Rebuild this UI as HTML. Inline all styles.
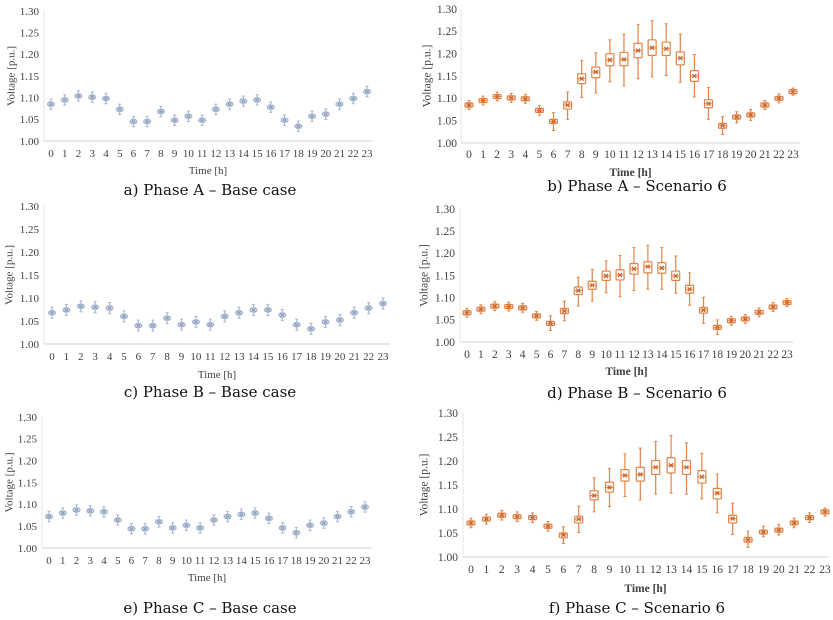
<!DOCTYPE html>
<html><head><meta charset="utf-8"><style>
body{margin:0;background:#fff}
svg{display:block;font-family:"Liberation Serif",serif}
</style></head><body>
<svg id="chart" width="833" height="620" viewBox="0 0 833 620"></svg>
<script>
const hours=[0,1,2,3,4,5,6,7,8,9,10,11,12,13,14,15,16,17,18,19,20,21,22,23];
const yTicks=[1.00,1.05,1.10,1.15,1.20,1.25,1.30];
const captions=["a) Phase A \u2013 Base case","b) Phase A \u2013 Scenario 6","c) Phase B \u2013 Base case","d) Phase B \u2013 Scenario 6","e) Phase C \u2013 Base case","f) Phase C \u2013 Scenario 6"];

const aMed=[1.085,1.095,1.104,1.101,1.098,1.073,1.045,1.045,1.068,1.048,1.057,1.048,1.073,1.085,1.092,1.095,1.078,1.048,1.034,1.057,1.062,1.085,1.098,1.114];
const aQ1=[1.081,1.091,1.100,1.097,1.094,1.069,1.041,1.041,1.064,1.044,1.053,1.044,1.069,1.081,1.088,1.091,1.074,1.044,1.030,1.053,1.058,1.081,1.094,1.110];
const aQ3=[1.089,1.099,1.108,1.105,1.102,1.077,1.049,1.049,1.072,1.052,1.061,1.052,1.077,1.089,1.096,1.099,1.082,1.052,1.038,1.061,1.066,1.089,1.102,1.118];
const aLo=[1.073,1.083,1.092,1.089,1.086,1.061,1.033,1.033,1.056,1.036,1.045,1.036,1.061,1.073,1.080,1.083,1.066,1.036,1.022,1.045,1.050,1.073,1.086,1.102];
const aHi=[1.097,1.107,1.116,1.113,1.110,1.085,1.057,1.057,1.080,1.060,1.069,1.060,1.085,1.097,1.104,1.107,1.090,1.060,1.046,1.069,1.074,1.097,1.110,1.126];

const bMed=[1.085,1.095,1.104,1.101,1.099,1.073,1.048,1.085,1.144,1.159,1.186,1.187,1.207,1.213,1.211,1.190,1.150,1.088,1.039,1.058,1.063,1.085,1.100,1.115];
const bQ1=[1.082,1.092,1.101,1.098,1.096,1.070,1.044,1.076,1.133,1.146,1.173,1.173,1.191,1.196,1.196,1.175,1.138,1.079,1.033,1.055,1.060,1.082,1.097,1.112];
const bQ3=[1.088,1.098,1.107,1.104,1.102,1.076,1.053,1.092,1.155,1.170,1.200,1.203,1.223,1.231,1.226,1.204,1.162,1.097,1.044,1.061,1.066,1.088,1.103,1.118];
const bLo=[1.075,1.085,1.094,1.091,1.089,1.062,1.028,1.053,1.102,1.112,1.137,1.128,1.144,1.148,1.151,1.136,1.103,1.053,1.019,1.045,1.050,1.075,1.090,1.107];
const bHi=[1.095,1.105,1.114,1.111,1.109,1.084,1.068,1.114,1.185,1.202,1.231,1.243,1.265,1.274,1.267,1.244,1.198,1.124,1.059,1.070,1.075,1.095,1.110,1.123];

const cMed=[1.068,1.074,1.082,1.080,1.078,1.060,1.040,1.040,1.056,1.042,1.048,1.042,1.060,1.068,1.074,1.074,1.063,1.042,1.033,1.048,1.052,1.068,1.078,1.088];
const cQ1=[1.064,1.070,1.078,1.076,1.074,1.056,1.036,1.036,1.052,1.038,1.044,1.038,1.056,1.064,1.070,1.070,1.059,1.038,1.029,1.044,1.048,1.064,1.074,1.084];
const cQ3=[1.072,1.078,1.086,1.084,1.082,1.064,1.044,1.044,1.060,1.046,1.052,1.046,1.064,1.072,1.078,1.078,1.067,1.046,1.037,1.052,1.056,1.072,1.082,1.092];
const cLo=[1.056,1.062,1.070,1.068,1.066,1.048,1.028,1.028,1.044,1.030,1.036,1.030,1.048,1.056,1.062,1.062,1.051,1.030,1.021,1.036,1.040,1.056,1.066,1.076];
const cHi=[1.080,1.086,1.094,1.092,1.090,1.072,1.052,1.052,1.068,1.054,1.060,1.054,1.072,1.080,1.086,1.086,1.075,1.054,1.045,1.060,1.064,1.080,1.090,1.100];

const dMed=[1.066,1.074,1.081,1.080,1.077,1.059,1.042,1.070,1.116,1.128,1.149,1.151,1.165,1.170,1.167,1.149,1.119,1.072,1.033,1.048,1.052,1.067,1.079,1.089];
const dQ1=[1.063,1.071,1.078,1.077,1.074,1.056,1.038,1.064,1.107,1.119,1.139,1.140,1.153,1.156,1.155,1.139,1.110,1.065,1.029,1.045,1.049,1.064,1.076,1.086];
const dQ3=[1.069,1.077,1.084,1.083,1.080,1.062,1.046,1.076,1.124,1.137,1.160,1.163,1.177,1.181,1.179,1.160,1.128,1.078,1.037,1.051,1.055,1.070,1.082,1.092];
const dLo=[1.056,1.064,1.071,1.070,1.067,1.049,1.026,1.048,1.081,1.092,1.111,1.102,1.116,1.119,1.119,1.110,1.083,1.042,1.017,1.038,1.042,1.057,1.069,1.080];
const dHi=[1.076,1.084,1.091,1.090,1.087,1.069,1.059,1.092,1.146,1.164,1.183,1.195,1.213,1.218,1.213,1.194,1.156,1.101,1.050,1.058,1.062,1.077,1.089,1.098];

const eMed=[1.072,1.080,1.087,1.085,1.083,1.064,1.044,1.044,1.060,1.046,1.052,1.046,1.064,1.072,1.077,1.080,1.068,1.046,1.035,1.052,1.057,1.072,1.083,1.094];
const eQ1=[1.068,1.076,1.083,1.081,1.079,1.060,1.040,1.040,1.056,1.042,1.048,1.042,1.060,1.068,1.073,1.076,1.064,1.042,1.031,1.048,1.053,1.068,1.079,1.090];
const eQ3=[1.076,1.084,1.091,1.089,1.087,1.068,1.048,1.048,1.064,1.050,1.056,1.050,1.068,1.076,1.081,1.084,1.072,1.050,1.039,1.056,1.061,1.076,1.087,1.098];
const eLo=[1.060,1.068,1.075,1.073,1.071,1.052,1.032,1.032,1.048,1.034,1.040,1.034,1.052,1.060,1.065,1.068,1.056,1.034,1.023,1.040,1.045,1.060,1.071,1.082];
const eHi=[1.084,1.092,1.099,1.097,1.095,1.076,1.056,1.056,1.072,1.058,1.064,1.058,1.076,1.084,1.089,1.092,1.080,1.058,1.047,1.064,1.069,1.084,1.095,1.106];

const fMed=[1.071,1.079,1.087,1.084,1.082,1.064,1.046,1.079,1.128,1.145,1.170,1.172,1.187,1.191,1.187,1.167,1.133,1.080,1.036,1.052,1.056,1.071,1.082,1.094];
const fQ1=[1.068,1.076,1.084,1.081,1.079,1.061,1.040,1.071,1.119,1.135,1.158,1.158,1.172,1.175,1.172,1.154,1.121,1.071,1.031,1.049,1.053,1.068,1.079,1.091];
const fQ3=[1.074,1.082,1.090,1.087,1.085,1.067,1.050,1.085,1.138,1.156,1.182,1.187,1.201,1.207,1.201,1.180,1.143,1.087,1.041,1.055,1.059,1.074,1.085,1.097];
const fLo=[1.061,1.069,1.077,1.074,1.072,1.054,1.028,1.051,1.094,1.105,1.126,1.119,1.131,1.133,1.131,1.121,1.092,1.047,1.020,1.042,1.046,1.061,1.072,1.085];
const fHi=[1.081,1.089,1.097,1.094,1.092,1.074,1.063,1.106,1.165,1.184,1.215,1.227,1.241,1.253,1.238,1.216,1.173,1.112,1.054,1.064,1.068,1.081,1.092,1.102];

const NS="http://www.w3.org/2000/svg";
const svg=document.getElementById('chart');
function mk(tag,attrs,parent,text){const e=document.createElementNS(NS,tag);for(const k in attrs)e.setAttribute(k,attrs[k]);if(text!==undefined)e.textContent=text;parent.appendChild(e);return e;}

const layouts=[
 {x0:51,x23:367,yT:11,yB:141,aL:44,aR:372,tY:157,ttY:174,capX:210,capY:195,labR:39,vX:12,fs:11,base:true},
 {x0:469,x23:793,yT:9,yB:143,aL:461,aR:800,tY:158,ttY:176,capX:637,capY:191,labR:457,vX:428,fs:11.5,base:false},
 {x0:52,x23:383,yT:206,yB:344,aL:44,aR:390,tY:360,ttY:378,capX:210,capY:397,labR:39,vX:10,fs:11,base:true},
 {x0:467,x23:787,yT:209,yB:342,aL:460,aR:793,tY:358,ttY:375,capX:637,capY:398,labR:455,vX:425,fs:11.5,base:false},
 {x0:49,x23:365,yT:417,yB:548,aL:42,aR:372,tY:564,ttY:581,capX:210,capY:613,labR:37,vX:10,fs:11,base:true},
 {x0:471,x23:825,yT:413,yB:557,aL:463,aR:828,tY:573,ttY:592,capX:637,capY:613,labR:458,vX:425,fs:11.5,base:false}
];
const series=[
 [aMed,aQ1,aQ3,aLo,aHi],[bMed,bQ1,bQ3,bLo,bHi],[cMed,cQ1,cQ3,cLo,cHi],
 [dMed,dQ1,dQ3,dLo,dHi],[eMed,eQ1,eQ3,eLo,eHi],[fMed,fQ1,fQ3,fLo,fHi]
];
const names=['phase-a-base','phase-a-scenario6','phase-b-base','phase-b-scenario6','phase-c-base','phase-c-scenario6'];

layouts.forEach((L,pi)=>{
  const g=mk('g',{},svg);
  
  
  const xS=i=>L.x0+(L.x23-L.x0)*i/23;
  const yS=v=>L.yB-(v-1.0)/0.30*(L.yB-L.yT);
  const col=L.base?'#a8b8d0':'#e08446';
  const dark=L.base?'#8ea2c0':'#c8612a';
  const ax=mk('line',{x1:L.aL,y1:L.yB,x2:L.aR,y2:L.yB,stroke:'#d9d9d9','stroke-width':1.2},g);
  
  
  const ay=mk('line',{x1:L.aL,y1:L.yT,x2:L.aL,y2:L.yB,stroke:'#e6e6e6','stroke-width':1},g);
  
  
  yTicks.forEach(t=>{
    const tx=mk('text',{x:L.labR,y:yS(t)+3.8,'text-anchor':'end','font-size':L.fs,fill:'#404040'},g,t.toFixed(2));
    
    
  });
  hours.forEach((h,i)=>{
    const tx=mk('text',{x:xS(i),y:L.tY,'text-anchor':'middle','font-size':L.fs,fill:'#404040'},g,String(h));
    
    
  });
  const xt=mk('text',{x:(L.aL+L.aR)/2,y:L.ttY,'text-anchor':'middle','font-size':L.fs,fill:'#404040','font-weight':L.base?'normal':'bold'},g,'Time [h]');
  
  
  const ym=(L.yT+L.yB)/2;
  const yt=mk('text',{x:L.vX,y:ym,'text-anchor':'middle','font-size':L.fs,fill:'#404040',transform:`rotate(-90 ${L.vX} ${ym})`,'dominant-baseline':'middle'},g,'Voltage [p.u.]');
  
  
  const cap=mk('text',{x:L.capX,y:L.capY,'text-anchor':'middle','font-size':15,fill:'#111','font-family':'"DejaVu Serif",serif'},g,captions[pi]);
  
  
  const [med,q1,q3,lo,hi]=series[pi];
  const w=L.base?3.5:4;
  hours.forEach((h,i)=>{
    const x=xS(i);
    const bg=mk('g',{},g);
    
    
    mk('line',{x1:x,y1:yS(hi[i]),x2:x,y2:yS(q3[i]),stroke:col,'stroke-width':1.2},bg);
    mk('line',{x1:x,y1:yS(q1[i]),x2:x,y2:yS(lo[i]),stroke:col,'stroke-width':1.2},bg);
    mk('line',{x1:x-1.5,y1:yS(hi[i]),x2:x+1.5,y2:yS(hi[i]),stroke:col,'stroke-width':1},bg);
    mk('line',{x1:x-1.5,y1:yS(lo[i]),x2:x+1.5,y2:yS(lo[i]),stroke:col,'stroke-width':1},bg);
    const top=yS(q3[i]),bot=yS(q1[i]);
    const hgt=Math.max(bot-top,4);
    const yy=(top+bot)/2-hgt/2;
    mk('rect',{x:x-w,y:yy,width:2*w,height:hgt,fill:'#fff',stroke:col,'stroke-width':1.2,rx:L.base?2.5:1},bg);
    const my=yS(med[i]);
    mk('line',{x1:x-w,y1:my,x2:x+w,y2:my,stroke:col,'stroke-width':1},bg);
    mk('path',{d:`M${x-2},${my-2}L${x+2},${my+2}M${x-2},${my+2}L${x+2},${my-2}`,stroke:dark,'stroke-width':1.2,fill:'none'},bg);
  });
});
</script>
</body></html>
